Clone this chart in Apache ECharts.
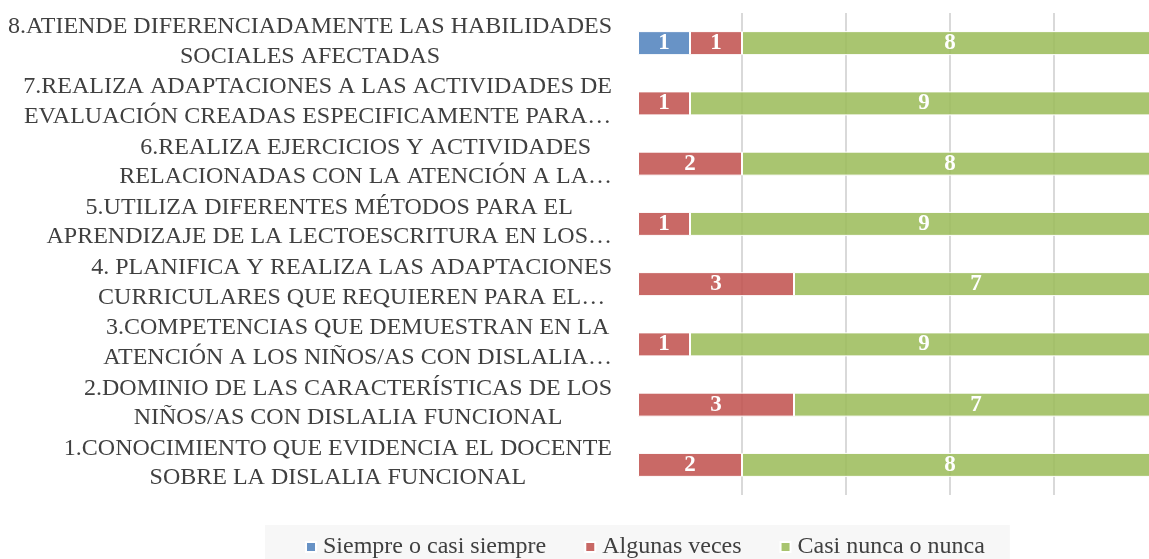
<!DOCTYPE html>
<html>
<head>
<meta charset="utf-8">
<script src="https://cdn.jsdelivr.net/npm/echarts@6/dist/echarts.min.js"></script>
<style>
html,body{margin:0;padding:0;background:#fff;}
#chart{width:1149px;height:559px;}
</style>
</head>
<body>
<div id="chart"></div>
<script>
const categories = [
  "1.CONOCIMIENTO QUE EVIDENCIA EL DOCENTE\nSOBRE LA DISLALIA FUNCIONAL",
  "2.DOMINIO DE LAS CARACTERÍSTICAS DE LOS\nNIÑOS/AS CON DISLALIA FUNCIONAL",
  "3.COMPETENCIAS QUE DEMUESTRAN EN LA\nATENCIÓN A LOS NIÑOS/AS CON DISLALIA…",
  "4. PLANIFICA Y REALIZA LAS ADAPTACIONES\nCURRICULARES QUE REQUIEREN PARA EL…",
  "5.UTILIZA DIFERENTES MÉTODOS PARA EL\nAPRENDIZAJE DE LA LECTOESCRITURA EN LOS…",
  "6.REALIZA EJERCICIOS Y ACTIVIDADES\nRELACIONADAS CON LA ATENCIÓN A LA…",
  "7.REALIZA ADAPTACIONES A LAS ACTIVIDADES DE\nEVALUACIÓN CREADAS ESPECIFICAMENTE PARA…",
  "8.ATIENDE DIFERENCIADAMENTE LAS HABILIDADES\nSOCIALES AFECTADAS"
];
const seriesNames = ["Siempre o casi siempre", "Algunas veces", "Casi nunca o nunca"];
const siempre    = [null, null, null, null, null, null, null, 1];
const algunas    = [2, 3, 1, 3, 1, 2, 1, 1];
const casiNunca  = [8, 7, 9, 7, 9, 8, 9, 8];
const colors = ["rgba(79,129,189,0.86)", "rgba(192,80,77,0.86)", "rgba(155,187,89,0.86)"];

const font = "'Liberation Serif', 'Times New Roman', serif";
const chart = echarts.init(document.getElementById('chart'), null, {renderer: 'canvas'});

function barSeries(name, data, color) {
  return {
    name: name,
    type: 'bar',
    stack: 'total',
    barWidth: 24,
    data: data,
    itemStyle: {color: color, borderColor: '#ffffff', borderWidth: 1},
    label: {
      show: true,
      position: 'inside',
      color: '#ffffff',
      fontFamily: font,
      fontWeight: 'bold',
      fontSize: 23,
      formatter: p => (p.value ? String(p.value) : '')
    },
    emphasis: {disabled: true}
  };
}

chart.setOption({
  animation: false,
  backgroundColor: '#ffffff',
  grid: {left: 638, right: -9, top: 13, bottom: 64, containLabel: false, outerBoundsMode: 'none'},
  legend: {
    data: seriesNames,
    left: 265,
    top: 525,
    padding: [10, 25, 10, 40],
    backgroundColor: '#f7f7f7',
    itemWidth: 10,
    itemHeight: 10,
    itemGap: 38,
    icon: 'rect',
    textStyle: {fontFamily: font, fontSize: 24, color: '#404040', padding: [0, 0, 0, 2]}
  },
  xAxis: {
    type: 'value',
    min: 0,
    max: 10,
    interval: 2,
    axisLabel: {show: false},
    axisLine: {show: false},
    axisTick: {show: false},
    splitLine: {show: true, showMinLine: false, showMaxLine: false, lineStyle: {color: '#d9d9d9', width: 2}}
  },
  yAxis: {
    type: 'category',
    data: categories,
    axisLine: {show: false},
    axisTick: {show: false},
    splitLine: {show: false},
    axisLabel: {
      interval: 0,
      margin: 26,
      padding: [0, 0, 3, 0],
      formatter: v => v.split('\n').map(l => '{c|' + l + '}').join('\n'),
      rich: {
        c: {align: 'center', fontFamily: font, fontSize: 24, lineHeight: 29.5, color: '#404040'}
      }
    }
  },
  series: [
    barSeries(seriesNames[0], siempre, colors[0]),
    barSeries(seriesNames[1], algunas, colors[1]),
    barSeries(seriesNames[2], casiNunca, colors[2])
  ]
});
</script>
</body>
</html>
